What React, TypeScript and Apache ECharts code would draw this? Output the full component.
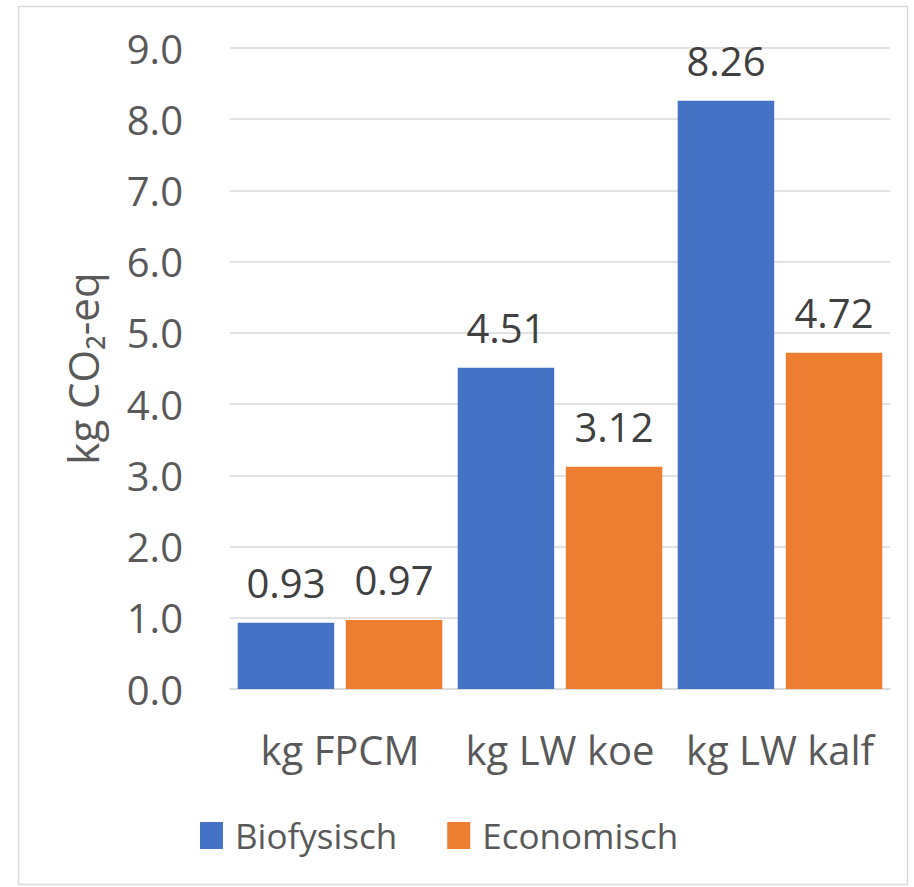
import React, { useEffect, useRef } from "react";
import * as echarts from "echarts";

const categories = ["kg FPCM", "kg LW koe", "kg LW kalf"];
const biofysisch = [0.93, 4.51, 8.26];
const economisch = [0.97, 3.12, 4.72];
const yTicks = { min: 0, max: 9, interval: 1 };

const FONT = "Open Sans";
const TXT = "#595959";

export default function App() {
  const ref = useRef<HTMLDivElement>(null);
  useEffect(() => {
    if (!ref.current) return;
    const chart = echarts.init(ref.current, undefined, { renderer: "svg" });
    const label = {
      show: true,
      position: "top",
      distance: 20,
      fontSize: 40,
      color: "#404040",
      fontFamily: FONT,
      formatter: (p: any) => p.value.toFixed(2),
    };
    chart.setOption({
      animation: false,
      backgroundColor: "#ffffff",
      textStyle: { fontFamily: FONT },
      graphic: [
        {
          type: "rect",
          shape: { x: 18.5, y: 6.5, width: 889, height: 878 },
          style: { fill: "none", stroke: "#d9d9d9", lineWidth: 1.5 },
          silent: true,
        },
      ],
      grid: { left: 230, right: 24, top: 48, bottom: 198, containLabel: false },
      legend: {
        top: 813,
        left: 195,
        itemWidth: 23,
        itemHeight: 27,
        itemGap: 50,
        icon: "rect",
        textStyle: { fontSize: 35, color: TXT, fontFamily: FONT, padding: [0, 0, 0, 7] },
        data: ["Biofysisch", "Economisch"],
      },
      xAxis: {
        type: "category",
        data: categories,
        axisLine: { lineStyle: { color: "#d9d9d9", width: 1.5 } },
        axisTick: { show: false },
        axisLabel: {
          fontSize: 40,
          color: TXT,
          margin: 40,
          fontFamily: FONT,
          interval: 0,
          hideOverlap: false,
        },
      },
      yAxis: {
        type: "value",
        min: yTicks.min,
        max: yTicks.max,
        interval: yTicks.interval,
        name: "kg CO₂-eq",
        nameLocation: "middle",
        nameGap: 127,
        nameRotate: 90,
        nameTextStyle: { fontSize: 42, color: TXT, fontFamily: FONT },
        axisLine: { show: false },
        axisTick: { show: false },
        splitLine: { lineStyle: { color: "#d9d9d9", width: 1.5 } },
        axisLabel: {
          fontSize: 40,
          color: TXT,
          margin: 47,
          fontFamily: FONT,
          formatter: (v: number) => v.toFixed(1),
        },
      },
      series: [
        {
          name: "Biofysisch",
          type: "bar",
          data: biofysisch,
          barGap: "12%",
          barCategoryGap: "7%",
          itemStyle: { color: "#4472C4" },
          label,
        },
        {
          name: "Economisch",
          type: "bar",
          data: economisch,
          barGap: "12%",
          barCategoryGap: "7%",
          itemStyle: { color: "#ED7D31" },
          label,
        },
      ],
    });
    return () => chart.dispose();
  }, []);
  return (
    <div
      ref={ref}
      style={{ position: "fixed", left: 0, top: 0, width: 914, height: 887 }}
    />
  );
}
